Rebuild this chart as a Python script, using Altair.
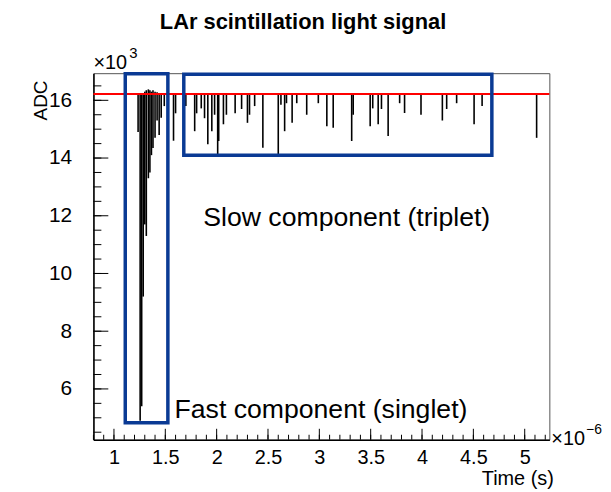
import altair as alt
import pandas as pd

# ---- data (time in units of 1e-6 s, ADC in units of 1e3) ----
spike_t = [1.235, 1.255, 1.27, 1.285, 1.30, 1.315, 1.335, 1.35, 1.365, 1.38, 1.40, 1.42, 1.44, 1.46, 1.49,
           1.58, 1.60,
           1.70, 1.786, 1.805, 1.85, 1.882, 1.914, 1.953, 1.98, 2.01, 2.02, 2.066, 2.095, 2.18, 2.243,
           2.30, 2.32, 2.37, 2.45, 2.60, 2.626, 2.662, 2.68, 2.735, 2.78, 2.877, 2.99, 3.073, 3.135,
           3.315, 3.33, 3.495, 3.52, 3.573, 3.605, 3.67, 3.782, 3.83, 3.99, 4.198, 4.24, 4.337, 4.507,
           4.585, 5.116]
spike_min = [14.9, 4.9, 5.4, 9.2, 11.7, 11.3, 13.3, 13.5, 14.1, 14.35, 14.7, 15.3, 14.8, 15.4, 15.8,
             14.6, 15.55,
             15.8, 14.93, 15.55, 15.72, 15.38, 14.48, 14.93, 15.5, 14.14, 14.59, 15.17, 15.5, 15.55, 15.7,
             15.22, 15.5, 15.8, 14.36, 14.14, 15.85, 14.93, 15.9, 15.22, 15.9, 15.5, 15.9, 15.1, 15.05,
             14.59, 15.5, 15.1, 15.72, 15.17, 15.7, 14.76, 15.9, 15.56, 15.5, 15.3, 15.7, 15.9, 15.17,
             15.8, 14.7]
spike_max = [16.2, 16.2, 16.2, 16.25, 16.3, 16.35, 16.38, 16.35, 16.3, 16.35, 16.3, 16.28, 16.25, 16.22, 16.2,
             16.2, 16.2] + [16.2] * 44
baseline_level = [16.22]

box_t1 = [1.11, 1.68]
box_t2 = [1.525, 4.68]
box_adc1 = [4.83, 14.1]
box_adc2 = [16.92, 16.9]

label_text = ["Slow component (triplet)", "Fast component (singlet)"]
label_t = [1.87, 1.59]
label_adc = [11.93, 5.28]

x_domain = [0.80, 5.24]
y_domain = [4.24, 16.94]
x_major = [1, 1.5, 2, 2.5, 3, 3.5, 4, 4.5, 5]
x_minor = [0.8, 0.9, 1.0, 1.1, 1.2, 1.3, 1.4, 1.5, 1.6, 1.7, 1.8, 1.9, 2.0, 2.1, 2.2, 2.3, 2.4, 2.5,
           2.6, 2.7, 2.8, 2.9, 3.0, 3.1, 3.2, 3.3, 3.4, 3.5, 3.6, 3.7, 3.8, 3.9, 4.0, 4.1, 4.2, 4.3,
           4.4, 4.5, 4.6, 4.7, 4.8, 4.9, 5.0, 5.1, 5.2]
y_major = [6, 8, 10, 12, 14, 16]
y_minor = [4.5, 5, 5.5, 6, 6.5, 7, 7.5, 8, 8.5, 9, 9.5, 10, 10.5, 11, 11.5, 12, 12.5, 13, 13.5,
           14, 14.5, 15, 15.5, 16, 16.5]

W, H = 459, 369
FONT = "Liberation Sans"
BLUE = "#0a3a94"

spikes_df = pd.DataFrame({"t": spike_t, "lo": spike_min, "hi": spike_max})
line_df = pd.DataFrame({"adc": baseline_level})
box_df = pd.DataFrame({"t1": box_t1, "t2": box_t2, "a1": box_adc1, "a2": box_adc2})
label_df = pd.DataFrame({"t": label_t, "adc": label_adc, "label": label_text})

xs = alt.Scale(domain=x_domain, nice=False, zero=False)
ys = alt.Scale(domain=y_domain, nice=False, zero=False)

AX = alt.Axis(orient="bottom", values=x_major, format="~g", ticks=False, tickSize=0,
              domain=True, domainColor="black", domainWidth=1.5, grid=False,
              labelFont=FONT, labelFontSize=20, labelColor="black", labelPadding=8,
              title="Time (s)", titleFont=FONT, titleFontSize=20, titleFontWeight="normal",
              titleColor="black", titleAlign="right", titleBaseline="middle",
              titleX=W + 4, titleY=39, titleAngle=0)
AY = alt.Axis(orient="left", values=y_major, format="~g", ticks=False, tickSize=0,
              domain=True, domainColor="black", domainWidth=1.5, grid=False,
              labelFont=FONT, labelFontSize=21, labelColor="black", labelPadding=22,
              title="ADC", titleFont=FONT, titleFontSize=19, titleFontWeight="normal",
              titleColor="black", titleAlign="center", titleBaseline="middle",
              titleAngle=270, titleX=-53, titleY=27)

spikes = alt.Chart(spikes_df).mark_rule(color="#000000", strokeWidth=1.6).encode(
    x=alt.X("t:Q", scale=xs, axis=AX),
    y=alt.Y("lo:Q", scale=ys, axis=AY),
    y2="hi:Q",
)

# inward-pointing ROOT-style ticks, placed through the scales
xmaj = alt.Chart(pd.DataFrame({"v": x_major})).mark_rule(color="black", strokeWidth=1).encode(
    x=alt.X("v:Q", scale=xs, axis=AX), y=alt.value(H), y2=alt.value(H - 11))
xmin = alt.Chart(pd.DataFrame({"v": x_minor})).mark_rule(color="black", strokeWidth=1).encode(
    x=alt.X("v:Q", scale=xs, axis=AX), y=alt.value(H), y2=alt.value(H - 5))
ymaj = alt.Chart(pd.DataFrame({"v": y_major})).mark_rule(color="black", strokeWidth=1).encode(
    y=alt.Y("v:Q", scale=ys, axis=AY), x=alt.value(0), x2=alt.value(15))
ymin = alt.Chart(pd.DataFrame({"v": y_minor})).mark_rule(color="black", strokeWidth=1).encode(
    y=alt.Y("v:Q", scale=ys, axis=AY), x=alt.value(0), x2=alt.value(8))

red_line = alt.Chart(line_df).mark_rule(color="#ff0000", strokeWidth=2).encode(
    y=alt.Y("adc:Q", scale=ys, axis=AY)
)

boxes = alt.Chart(box_df).mark_rect(filled=False, color=BLUE, strokeWidth=3.5).encode(
    x=alt.X("t1:Q", scale=xs, axis=AX),
    x2="t2:Q",
    y=alt.Y("a1:Q", scale=ys, axis=AY),
    y2="a2:Q",
)

labels = alt.Chart(label_df).mark_text(align="left", baseline="middle", font=FONT,
                                       fontSize=26.8, color="black").encode(
    x=alt.X("t:Q", scale=xs, axis=AX),
    y=alt.Y("adc:Q", scale=ys, axis=AY),
    text="label:N",
)

title = alt.Chart(pd.DataFrame({"s": ["LAr scintillation light signal"]})).mark_text(
    align="center", baseline="alphabetic", font=FONT, fontSize=22, fontWeight="bold",
    color="black").encode(x=alt.value(211), y=alt.value(-44), text="s:N")

exp_y_base = alt.Chart(pd.DataFrame({"s": ["\u00d710"]})).mark_text(
    align="left", baseline="alphabetic", font=FONT, fontSize=20, color="black").encode(
    x=alt.value(0), y=alt.value(-4), text="s:N")
exp_y_sup = alt.Chart(pd.DataFrame({"s": ["3"]})).mark_text(
    align="left", baseline="alphabetic", font=FONT, fontSize=15, color="black").encode(
    x=alt.value(36), y=alt.value(-15), text="s:N")
exp_x_base = alt.Chart(pd.DataFrame({"s": ["\u00d710"]})).mark_text(
    align="left", baseline="alphabetic", font=FONT, fontSize=20, color="black").encode(
    x=alt.value(W + 2), y=alt.value(H + 5), text="s:N")
exp_x_sup = alt.Chart(pd.DataFrame({"s": ["\u22126"]})).mark_text(
    align="left", baseline="alphabetic", font=FONT, fontSize=14, color="black").encode(
    x=alt.value(W + 37), y=alt.value(H - 6), text="s:N")

chart = alt.layer(
    spikes, red_line, boxes, xmaj, xmin, ymaj, ymin, labels, title,
    exp_y_base, exp_y_sup, exp_x_base, exp_x_sup,
).properties(
    width=W, height=H,
    autosize=alt.AutoSizeParams(type="none"),
    padding={"left": 86, "top": 64, "right": 54, "bottom": 50},
).configure_view(stroke="#555555", strokeWidth=1)

chart.save("out.html", embed_options={"renderer": "svg", "actions": False})
